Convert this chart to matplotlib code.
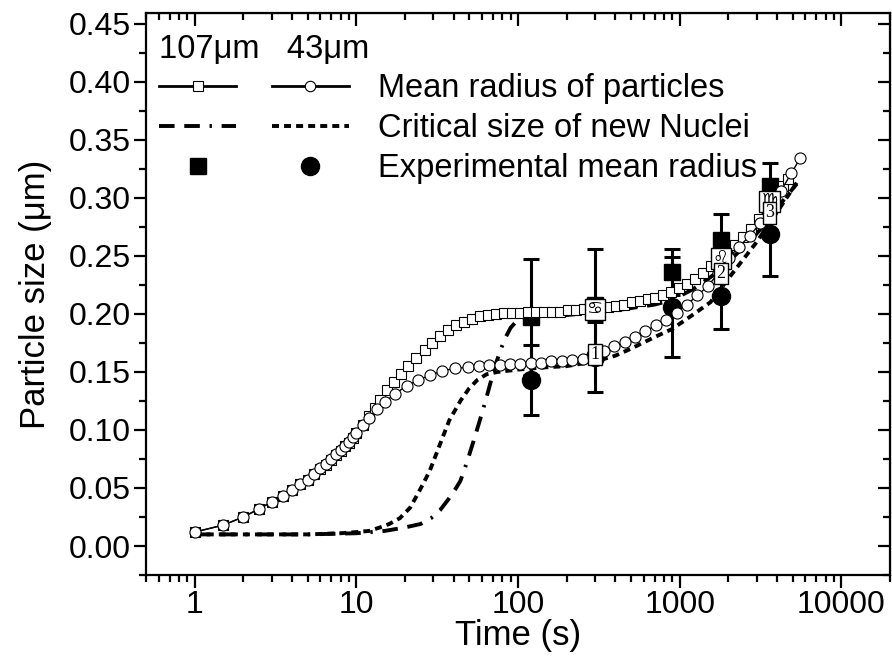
import matplotlib
matplotlib.use("Agg")
import matplotlib.pyplot as plt
from matplotlib.lines import Line2D
from matplotlib.legend_handler import HandlerTuple
from matplotlib.ticker import MultipleLocator, LogLocator, NullFormatter, FixedLocator

plt.rcParams['font.family'] = ['Liberation Sans', 'DejaVu Sans']

# Mean radius of particles, 107 um (open squares)
sq_t = [1, 1.5, 2, 2.5, 3, 3.5, 4, 4.5, 5, 5.5, 6, 6.5, 7, 7.5, 8, 8.5, 9, 9.5, 10,
        11, 12, 13, 14, 15.5, 17, 19, 21, 23.5, 26.5, 29.5, 33, 37, 41.5, 46.5, 52,
        58, 65, 73, 82, 92, 103, 115, 129, 145, 162, 182, 204, 228, 256, 286, 321,
        359, 402, 451, 505, 565, 633, 709, 794, 889, 996, 1115, 1249, 1399, 1567,
        1755, 1966, 2202, 2466, 2762, 3093, 3464, 3880, 4346, 4700]
sq_r = [0.012, 0.018, 0.025, 0.032, 0.038, 0.043, 0.048, 0.053, 0.057, 0.062, 0.066,
        0.070, 0.074, 0.078, 0.082, 0.086, 0.089, 0.093, 0.097, 0.104, 0.112, 0.119,
        0.126, 0.134, 0.141, 0.148, 0.155, 0.162, 0.169, 0.175, 0.181, 0.186, 0.190,
        0.193, 0.196, 0.198, 0.199, 0.200, 0.201, 0.201, 0.201, 0.202, 0.202, 0.202,
        0.202, 0.202, 0.203, 0.203, 0.204, 0.205, 0.206, 0.206, 0.207, 0.208, 0.210,
        0.211, 0.213, 0.214, 0.216, 0.219, 0.222, 0.226, 0.230, 0.235, 0.241, 0.247,
        0.253, 0.259, 0.266, 0.273, 0.282, 0.292, 0.301, 0.310, 0.316]

# Mean radius of particles, 43 um (open circles)
ci_t = [1, 1.5, 2, 2.5, 3, 3.5, 4, 4.5, 5, 5.5, 6, 6.5, 7, 7.5, 8, 8.5, 9, 9.5, 10,
        11, 12, 13.5, 15, 17.3, 20.5, 24, 28.5, 34, 41, 49, 57, 66, 77, 89, 103, 120,
        139, 161, 187, 217, 252, 292, 339, 393, 456, 529, 614, 712, 826, 958, 1111,
        1289, 1495, 1735, 2012, 2334, 2708, 3141, 3644, 4227, 4903, 5560]
ci_r = [0.012, 0.018, 0.025, 0.032, 0.038, 0.043, 0.048, 0.053, 0.057, 0.062, 0.067,
        0.071, 0.075, 0.079, 0.083, 0.086, 0.090, 0.094, 0.097, 0.104, 0.110, 0.118,
        0.124, 0.131, 0.138, 0.143, 0.147, 0.151, 0.153, 0.154, 0.155, 0.156, 0.156,
        0.157, 0.157, 0.158, 0.158, 0.159, 0.159, 0.160, 0.161, 0.163, 0.168, 0.172,
        0.176, 0.180, 0.185, 0.190, 0.195, 0.201, 0.208, 0.216, 0.224, 0.235, 0.248,
        0.258, 0.267, 0.278, 0.292, 0.306, 0.321, 0.334]

# Critical size of new nuclei
crit107_t = [1, 2, 5, 10, 15, 20, 25, 29, 33, 37, 41, 44, 48, 53, 58, 63, 68, 73, 78,
             84, 90, 100, 120, 200, 400, 700, 900, 1200, 1600, 2000, 2700, 3600, 4500, 5300]
crit107_r = [0.010, 0.010, 0.010, 0.011, 0.013, 0.016, 0.019, 0.024, 0.031, 0.040,
             0.049, 0.056, 0.071, 0.090, 0.108, 0.125, 0.142, 0.157, 0.169, 0.180,
             0.188, 0.195, 0.198, 0.199, 0.203, 0.208, 0.212, 0.221, 0.233, 0.245,
             0.262, 0.282, 0.300, 0.312]
crit43_t = [1, 3, 5, 8, 10, 12, 14, 16, 18.6, 21.5, 24, 26, 28.5, 33, 37.5, 44, 50,
            56, 64, 75, 100, 150, 200, 300, 400, 500, 700, 900, 1200, 1550, 2150,
            3000, 4200, 5300]
crit43_r = [0.010, 0.010, 0.010, 0.011, 0.012, 0.013, 0.016, 0.019, 0.024, 0.033,
            0.045, 0.054, 0.065, 0.088, 0.108, 0.125, 0.136, 0.143, 0.148, 0.150,
            0.152, 0.154, 0.155, 0.159, 0.164, 0.170, 0.180, 0.187, 0.199, 0.210,
            0.236, 0.262, 0.292, 0.313]

# Experimental mean radius
exp_t = [120, 300, 900, 1800, 3600]
exp107_r = [0.197, 0.208, 0.236, 0.264, 0.310]
exp107_err = [0.050, 0.048, 0.020, 0.022, 0.020]
exp43_r = [0.143, 0.163, 0.206, 0.215, 0.269]
exp43_err = [0.030, 0.030, 0.043, 0.028, 0.036]

# point labels drawn as boxed tags on the curves
tag_t = [300, 1800, 3600, 300, 1800, 3600]
tag_r = [0.204, 0.248, 0.297, 0.165, 0.235, 0.287]
tag_txt = ['\u264b', '\u264c', '\u264d', '1', '2', '3']

fig = plt.figure(figsize=(8.92, 6.64), dpi=100)
ax = fig.add_axes([0.1637, 0.134, 0.834, 0.846])

ax.errorbar(exp_t, exp107_r, yerr=exp107_err, fmt='s', color='black', ms=11,
            elinewidth=2.2, capsize=6, capthick=2.2, zorder=2)
ax.errorbar(exp_t, exp43_r, yerr=exp43_err, fmt='o', color='black', ms=13,
            elinewidth=2.2, capsize=6, capthick=2.2, zorder=2)

ax.plot(crit107_t, crit107_r, color='black', lw=2.8, dashes=(4, 2.5, 4, 2.5, 0.6, 2.5),
        zorder=3)
ax.plot(crit43_t, crit43_r, color='black', lw=2.8, dashes=(1.8, 1.3), zorder=3)

ax.plot(sq_t, sq_r, color='black', lw=1, marker='s', ms=6.5, mfc='white', mec='black',
        mew=0.8, zorder=4)
ax.plot(ci_t, ci_r, color='black', lw=1, marker='o', ms=8, mfc='white', mec='black',
        mew=0.8, zorder=5)

for t, r, s in zip(tag_t, tag_r, tag_txt):
    ax.text(t, r, s, ha='center', va='center', fontsize=13,
            family=['Liberation Serif', 'DejaVu Sans'], zorder=6,
            bbox=dict(boxstyle='square,pad=0.12', fc='white', ec='black', lw=1))

ax.set_xscale('log')
ax.set_xlim(0.5, 20000)
ax.xaxis.set_major_locator(FixedLocator([1, 10, 100, 1000, 10000]))
ax.set_xticklabels(['1', '10', '100', '1000', '10000'])
ax.xaxis.set_minor_locator(LogLocator(base=10, subs=range(2, 10)))
ax.xaxis.set_minor_formatter(NullFormatter())
ax.set_yticks([0, 0.05, 0.10, 0.15, 0.20, 0.25, 0.30, 0.35, 0.40, 0.45])
ax.set_yticklabels(['0.00', '0.05', '0.10', '0.15', '0.20', '0.25', '0.30', '0.35',
                    '0.40', '0.45'])
ax.yaxis.set_minor_locator(MultipleLocator(0.025))
ax.set_ylim(-0.025, 0.459)

ax.tick_params(which='major', direction='out', length=9, width=1.6, labelsize=23,
               pad=2)
ax.tick_params(which='minor', direction='out', length=5, width=1.6)
for sp in ax.spines.values():
    sp.set_linewidth(1.6)

# mirrored inward ticks on top and right
top = ax.secondary_xaxis('top')
top.set_xticks([1, 10, 100, 1000, 10000])
top.xaxis.set_minor_locator(LogLocator(base=10, subs=range(2, 10)))
top.xaxis.set_minor_formatter(NullFormatter())
top.tick_params(which='major', direction='in', length=9, width=1.6, labeltop=False)
top.tick_params(which='minor', direction='in', length=5, width=1.6)
right = ax.secondary_yaxis('right')
right.yaxis.set_major_locator(MultipleLocator(0.05))
right.yaxis.set_minor_locator(MultipleLocator(0.025))
right.tick_params(which='major', direction='in', length=9, width=1.6, labelright=False)
right.tick_params(which='minor', direction='in', length=5, width=1.6)

ax.set_xlabel('Time (s)', fontsize=25, labelpad=-1)
ax.set_ylabel('Particle size (\u03bcm)', fontsize=25, labelpad=12)

# legend
h_mean = (Line2D([], [], color='black', lw=2, marker='s', ms=6.5, mfc='white', mec='black', mew=0.8),
          Line2D([], [], color='black', lw=2, marker='o', ms=7.5, mfc='white', mec='black', mew=0.8))
h_crit = (Line2D([], [], color='black', lw=2.8, dashes=(4, 2.5, 4, 2.5, 0.6, 2.5)),
          Line2D([], [], color='black', lw=2.8, dashes=(1.8, 1.3)))
h_exp = (Line2D([], [], ls='none', color='black', marker='s', ms=11),
         Line2D([], [], ls='none', color='black', marker='o', ms=13))
leg = ax.legend([h_mean, h_crit, h_exp],
                ['Mean radius of particles', 'Critical size of new Nuclei',
                 'Experimental mean radius'],
                handler_map={tuple: HandlerTuple(ndivide=None, pad=1.1)},
                loc='upper left', bbox_to_anchor=(-0.002, 0.990), frameon=False,
                fontsize=23.5, handlelength=5.8, handletextpad=0.9, labelspacing=0.27,
                borderpad=0.45, borderaxespad=0, numpoints=1,
                title='107\u03bcm   43\u03bcm', title_fontsize=23.5, alignment='left')

fig.savefig('out.png', dpi=100)
